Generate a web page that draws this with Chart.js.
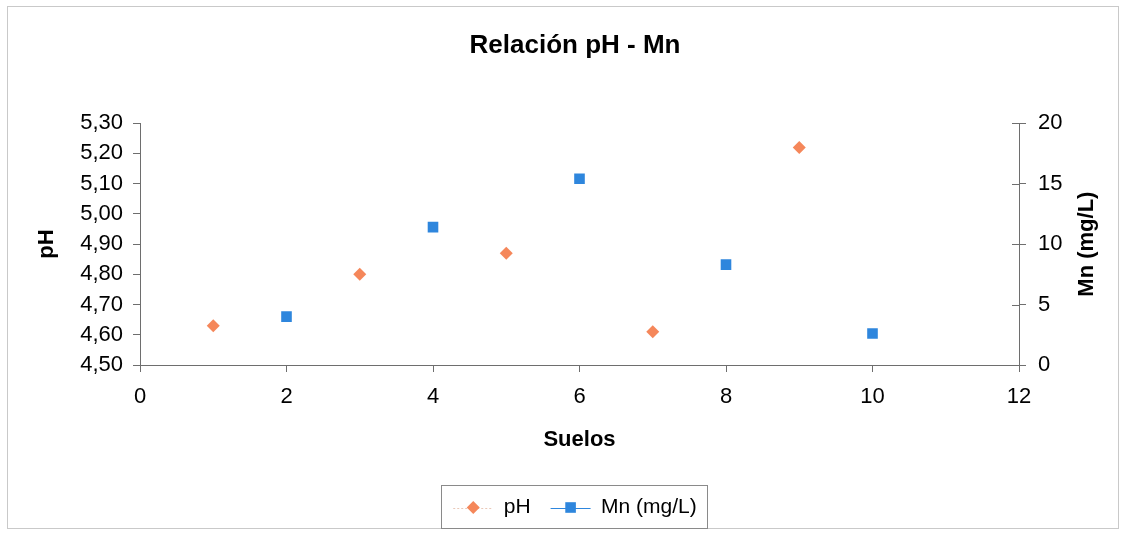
<!DOCTYPE html>
<html>
<head>
<meta charset="utf-8">
<script src="https://cdn.jsdelivr.net/npm/chart.js@4"></script>
<style>
  html, body { margin: 0; padding: 0; background: #ffffff; }
  #wrap { position: relative; width: 1124px; height: 533px; }
  #frame { position: absolute; left: 7px; top: 6px; width: 1112px; height: 523px; border: 1px solid #c9c9c9; box-sizing: border-box; }
  canvas { position: absolute; left: 0; top: 0; }
</style>
</head>
<body>
<div id="wrap">
  <div id="frame"></div>
  <canvas id="c" width="1124" height="533"></canvas>
</div>
<script>
// ---- data ----
const phSuelos = [1, 3, 5, 7, 9];
const phValues = [4.63, 4.80, 4.87, 4.61, 5.22];
const mnSuelos = [2, 4, 6, 8, 10];
const mnValues = [4.0, 11.4, 15.4, 8.3, 2.6];
const seriesNames = ['pH', 'Mn (mg/L)'];
const titleText = 'Relación pH - Mn';
const xTitle = 'Suelos';
const yTitle = 'pH';
const y2Title = 'Mn (mg/L)';

const FONT = "'Liberation Sans', Arial, sans-serif";
const ORANGE = '#F5875A';
const BLUE = '#2E86DD';
const AXIS = '#6e6e6e';

const toPts = (xs, ys) => xs.map((x, i) => ({ x: x, y: ys[i] }));

const legendDecor = {
  id: 'legendDecor',
  afterDraw(chart) {
    const ctx = chart.ctx;
    ctx.save();
    // right axis title, reading bottom-to-top like the reference
    const y2 = chart.scales.y2;
    const ca = chart.chartArea;
    ctx.fillStyle = '#000';
    ctx.font = "bold 22px " + FONT;
    ctx.textAlign = 'center';
    ctx.textBaseline = 'middle';
    ctx.translate(y2.right - 37, (ca.top + ca.bottom) / 2);
    ctx.rotate(-Math.PI / 2);
    ctx.fillText(y2Title, 0, 0);
    ctx.setTransform(1, 0, 0, 1, 0, 0);

    // inner half of right axis ticks
    const xr = ca.right;
    ctx.strokeStyle = AXIS;
    ctx.lineWidth = 1;
    ctx.beginPath();
    y2.ticks.forEach(t => {
      const py = Math.round(y2.getPixelForValue(t.value)) + 0.5;
      ctx.moveTo(xr - 7, py);
      ctx.lineTo(xr, py);
    });
    ctx.stroke();

    const lg = chart.legend;
    if (lg && lg.legendHitBoxes && lg.legendHitBoxes.length) {
      const hb = lg.legendHitBoxes;
      const first = hb[0], last = hb[hb.length - 1];
      ctx.strokeStyle = '#8a8a8a';
      const L = Math.round(first.left - 12) + 0.5;
      const R = Math.round(last.left + last.width + 10) + 0.5;
      const T = Math.round(first.top - 12) + 0.5;
      const B = Math.round(first.top + first.height + 10) + 0.5;
      ctx.strokeRect(L, T, R - L, B - T);
      const styles = [
        { color: ORANGE, line: '#e9c8b8', dash: [2, 2], pointStyle: 'rectRot', radius: 6.5 },
        { color: BLUE, line: BLUE, dash: [], pointStyle: 'rect', radius: 7.5 }
      ];
      hb.forEach((b, i) => {
        const s = styles[i];
        const cy = b.top + b.height / 2;
        const x0 = b.left, x1 = b.left + 40;
        const cx = (x0 + x1) / 2;
        ctx.strokeStyle = s.line;
        ctx.setLineDash(s.dash);
        ctx.beginPath();
        ctx.moveTo(x0, Math.round(cy) + 0.5);
        ctx.lineTo(x1, Math.round(cy) + 0.5);
        ctx.stroke();
        ctx.setLineDash([]);
        ctx.fillStyle = s.color;
        ctx.beginPath();
        if (s.pointStyle === 'rect') {
          const h = s.radius * Math.SQRT1_2;
          ctx.rect(cx - h, cy - h, 2 * h, 2 * h);
        } else {
          ctx.moveTo(cx, cy - s.radius);
          ctx.lineTo(cx + s.radius, cy);
          ctx.lineTo(cx, cy + s.radius);
          ctx.lineTo(cx - s.radius, cy);
          ctx.closePath();
        }
        ctx.fill();
      });
    }
    ctx.restore();
  }
};

new Chart(document.getElementById('c'), {
  type: 'scatter',
  data: {
    datasets: [
      {
        label: seriesNames[0],
        data: toPts(phSuelos, phValues),
        yAxisID: 'y',
        pointStyle: 'rectRot',
        pointRadius: 6.5,
        backgroundColor: ORANGE,
        borderColor: ORANGE,
        borderWidth: 0
      },
      {
        label: seriesNames[1],
        data: toPts(mnSuelos, mnValues),
        yAxisID: 'y2',
        pointStyle: 'rect',
        pointRadius: 7.5,
        backgroundColor: BLUE,
        borderColor: BLUE,
        borderWidth: 0
      }
    ]
  },
  options: {
    responsive: false,
    animation: false,
    devicePixelRatio: 1,
    layout: { padding: { left: 26, right: 0, top: 0, bottom: 5 } },
    plugins: {
      tooltip: { enabled: false },
      title: {
        display: true,
        text: titleText,
        color: '#000',
        font: { family: FONT, size: 26, weight: 'bold', lineHeight: 1.2 },
        padding: { top: 30, bottom: 62 }
      },
      legend: {
        display: true,
        position: 'bottom',
        labels: {
          color: '#000',
          font: { family: FONT, size: 21 },
          boxWidth: 40,
          boxHeight: 21,
          padding: 20,
          generateLabels: (chart) => chart.data.datasets.map((d, i) => ({
            text: d.label,
            fillStyle: 'rgba(0,0,0,0)',
            strokeStyle: 'rgba(0,0,0,0)',
            lineWidth: 0,
            hidden: false,
            datasetIndex: i,
            fontColor: '#000'
          }))
        }
      }
    },
    scales: {
      x: {
        type: 'linear',
        position: 'bottom',
        min: 0, max: 12,
        ticks: { stepSize: 2, color: '#000', padding: 12, font: { family: FONT, size: 22 } },
        grid: { drawOnChartArea: false, drawTicks: true, tickLength: 7, color: AXIS },
        border: { display: true, color: AXIS, width: 1 },
        title: { display: true, text: xTitle, color: '#000', font: { family: FONT, size: 22, weight: 'bold' }, padding: { top: 0, bottom: 24 } },
        afterFit: (s) => { s.height = 112; }
      },
      y: {
        type: 'linear',
        position: 'left',
        min: 4.5, max: 5.3,
        ticks: {
          stepSize: 0.1, color: '#000', padding: 10,
          font: { family: FONT, size: 22 },
          callback: (v) => Number(v).toFixed(2).replace('.', ',')
        },
        grid: { drawOnChartArea: false, drawTicks: true, tickLength: 7, color: AXIS },
        border: { display: true, color: AXIS, width: 1 },
        title: { display: true, text: yTitle, color: '#000', font: { family: FONT, size: 22, weight: 'bold' }, padding: { top: 8, bottom: 0 } },
        afterFit: (s) => { s.width = 114; }
      },
      y2: {
        type: 'linear',
        position: 'right',
        min: 0, max: 20,
        ticks: { stepSize: 5, color: '#000', padding: 12, font: { family: FONT, size: 22 } },
        grid: { drawOnChartArea: false, drawTicks: true, tickLength: 7, color: AXIS },
        border: { display: true, color: AXIS, width: 1 },
        title: { display: false },
        afterFit: (s) => { s.width = 105; }
      }
    }
  },
  plugins: [legendDecor]
});
</script>
</body>
</html>
